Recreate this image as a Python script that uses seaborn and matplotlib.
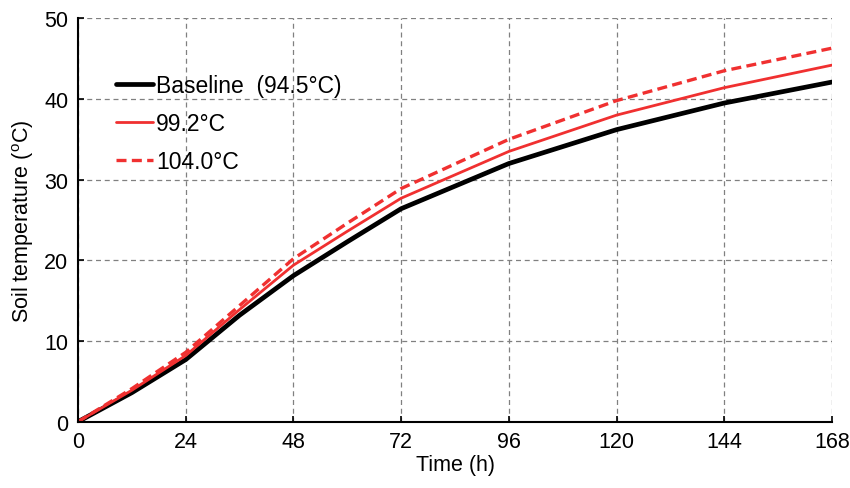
import matplotlib
matplotlib.use("Agg")
import matplotlib.pyplot as plt
import seaborn as sns
import pandas as pd

time_h = [0, 12, 24, 36, 48, 60, 72, 96, 120, 144, 168]
baseline = [0, 3.6, 7.7, 13.2, 18.1, 22.3, 26.4, 32.0, 36.2, 39.5, 42.1]
t99 = [0, 3.9, 8.2, 13.9, 19.4, 23.6, 27.7, 33.5, 38.0, 41.4, 44.2]
t104 = [0, 4.1, 8.6, 14.4, 20.2, 24.6, 28.9, 35.0, 39.8, 43.5, 46.3]
labels = ["Baseline  (94.5°C)", "99.2°C", "104.0°C"]
xticks = [0, 24, 48, 72, 96, 120, 144, 168]
yticks = [0, 10, 20, 30, 40, 50]

sns.set_style("white")
plt.rcParams["font.family"] = ["Liberation Sans", "DejaVu Sans"]
plt.rcParams["mathtext.fontset"] = "custom"
plt.rcParams["mathtext.rm"] = "Liberation Sans"
plt.rcParams["text.color"] = "black"
plt.rcParams["axes.labelcolor"] = "black"

fig = plt.figure(figsize=(8.5, 4.89), dpi=100)
ax = fig.add_axes([0.0918, 0.1356, 0.8870, 0.8249])

series = [
    (baseline, labels[0], "black", "-", 3.4),
    (t99, labels[1], "#f03030", "-", 2.0),
    (t104, labels[2], "#f03030", (0, (3, 1.6)), 2.4),
]
for vals, lab, col, ls, lw in series:
    df = pd.DataFrame({"t": time_h, "v": vals})
    sns.lineplot(data=df, x="t", y="v", ax=ax, color=col, linestyle=ls,
                 linewidth=lw, label=lab)

ax.set_xlim(0, 168)
ax.set_ylim(0, 50)
ax.set_xticks(xticks)
ax.set_yticks(yticks)
ax.grid(True, color="#808080", linestyle=(0, (4, 3)), linewidth=0.9)
for s in ["top", "right"]:
    ax.spines[s].set_visible(False)
for s in ["left", "bottom"]:
    ax.spines[s].set_color("black")
    ax.spines[s].set_linewidth(1.5)
    ax.spines[s].set_zorder(5)
ax.tick_params(direction="in", length=4, width=1.2, labelsize=15.5,
               colors="black", pad=7, left=True, bottom=True)
ax.set_xlabel("Time (h)", fontsize=15.5, labelpad=1, color="black")
ax.set_ylabel(r"Soil temperature ($^{\rm o}$C)", fontsize=15.5, labelpad=6,
              color="black")

leg = ax.legend(loc="upper left", bbox_to_anchor=(0.038, 0.884), frameon=False,
                fontsize=16.5, handlelength=1.6, handletextpad=0.15,
                labelspacing=0.65, borderaxespad=0, labelcolor="black")

fig.savefig("out.png", dpi=100)
